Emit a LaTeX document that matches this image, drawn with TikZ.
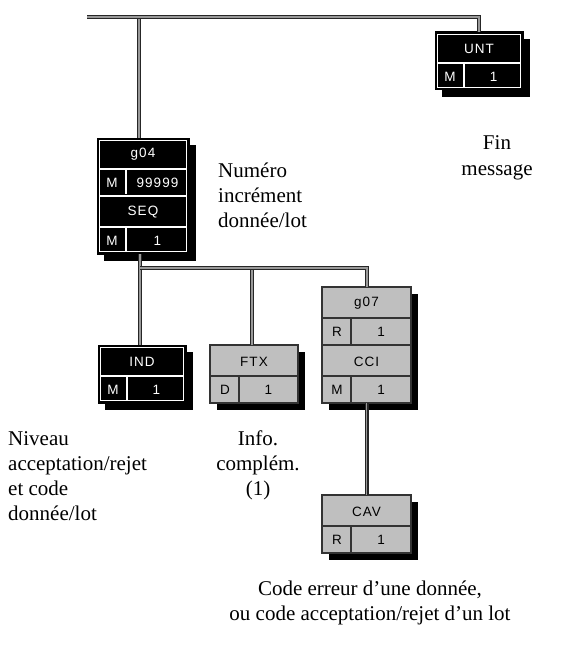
\documentclass[tikz,border=0pt]{standalone}
\usepackage{fontspec}
\setmainfont{Liberation Serif}
\newfontfamily\boxfont[LetterSpace=8]{Liberation Sans}
\usetikzlibrary{calc}
\tikzset{
  conn/.style={draw=black!85, line width=1.1pt, double=black!40, double distance=1.8pt},
  boxtxt/.style={font=\boxfont\fontsize{13.5}{13.5}\selectfont, inner sep=0pt},
  lbl/.style={font=\fontsize{21}{25}\selectfont, inner sep=0pt},
  blkframe/.style={fill=black, draw=black, line width=1pt},
  gryframe/.style={fill=black!25, draw=black!80, line width=1.3pt},
}
% frame: #1 name, #2 x, #3 y, #4 w, #5 h, #6 blk/gry
\newcommand\frm[6]{%
  \fill[black] (#2+7,#3+7) rectangle ++(#4,#5);
  \node[#6frame, anchor=north west, minimum width=#4pt, minimum height=#5pt, inner sep=0pt, outer sep=0pt] (#1) at (#2,#3) {};
}
\newcommand\whiteinset[4]{%
  \draw[white, line width=1pt] (#1+2.5,#2+2.5) rectangle (#1+#3-2.5,#2+#4-2.5);
}
% segment: #1 name, #2 x, #3 y, #4 w, #5 line colour, #6 text colour, #7 header, #8 code, #9 number
\newcommand\seg[9]{%
  \draw[#5, line width=1.1pt] (#2+\ins,#3+31) -- (#2+#4-\ins,#3+31);
  \draw[#5, line width=1.1pt] (#2+29,#3+31) -- (#2+29,#3+58-\ins);
  \node[boxtxt,text=#6] (#1h) at (#2+#4/2,#3+16.5) {#7};
  \node[boxtxt,text=#6] (#1c) at (#2+15,#3+45) {#8};
  \node[boxtxt,text=#6] (#1n) at ({#2+29+(#4-29)/2},#3+45) {#9};
}
\begin{document}
\begin{tikzpicture}[x=1pt,y=-1pt]
\useasboundingbox (0,0) rectangle (568,650);
% ---- boxes ----
\def\ins{2.5}
% UNT
\frm{unt}{435}{32}{88}{58}{blk}
\whiteinset{435}{32}{88}{58}
\seg{unt}{435}{32}{88}{white}{white}{UNT}{M}{1}
% g04 / SEQ
\frm{g04}{97}{138}{92}{116}{blk}
\whiteinset{97}{138}{92}{116}
\seg{g04}{97}{138}{92}{white}{white}{g04}{M}{99999}
\draw[white, line width=1.1pt] (97+2.5,196) -- (189-2.5,196);
\seg{seq}{97}{196}{92}{white}{white}{SEQ}{M}{1}
% IND
\frm{ind}{98}{345}{88}{58}{blk}
\whiteinset{98}{345}{88}{58}
\seg{ind}{98}{345}{88}{white}{white}{IND}{M}{1}
\def\ins{0}
% FTX
\frm{ftx}{210}{345}{88}{58}{gry}
\seg{ftx}{210}{345}{88}{black!80}{black}{FTX}{D}{1}
% g07 / CCI
\frm{g07}{322}{287}{89}{116}{gry}
\seg{g07}{322}{287}{89}{black!80}{black}{g07}{R}{1}
\draw[black!80, line width=1.1pt] (322,345) -- (411,345);
\seg{cci}{322}{345}{89}{black!80}{black}{CCI}{M}{1}
% CAV
\frm{cav}{322}{495}{89}{58}{gry}
\seg{cav}{322}{495}{89}{black!80}{black}{CAV}{R}{1}
% ---- connectors ----
\coordinate (barL) at (87,17);
\coordinate (j1) at (139,17);
\coordinate (barR) at (479,17);
\coordinate (j2) at (140,268);
\coordinate (j3) at (252,268);
\coordinate (j4) at (367,268);
\draw[conn] (j1) -- (j1 |- g04.north);
\draw[conn] (barL) -- (barR) -- (barR |- unt.north);
\draw[conn] (j2 |- g04.south) -- (j2) -- (j2 |- ind.north);
\draw[conn] (j3) -- (j3 |- ftx.north);
\draw[conn] (j2) -- (j4) -- (j4 |- g07.north);
\draw[conn] (g07.south) -- (cav.north);
% ---- labels (base = baseline of last line) ----
\node[lbl, anchor=base west, align=left] (numero) at (218,227) {Numéro\\incrément\\donnée/lot};
\node[lbl, anchor=base, align=center] (fin) at (497,175) {Fin\\message};
\node[lbl, anchor=base west, align=left] (niveau) at (8,520) {Niveau\\acceptation/rejet\\et code\\donnée/lot};
\node[lbl, anchor=base, align=center] (info) at (258,495) {Info.\\complém.\\(1)};
\node[lbl, anchor=base, align=center] (code) at (370,620) {Code erreur d'une donnée,\\ou code acceptation/rejet d'un lot};
\end{tikzpicture}
\end{document}
